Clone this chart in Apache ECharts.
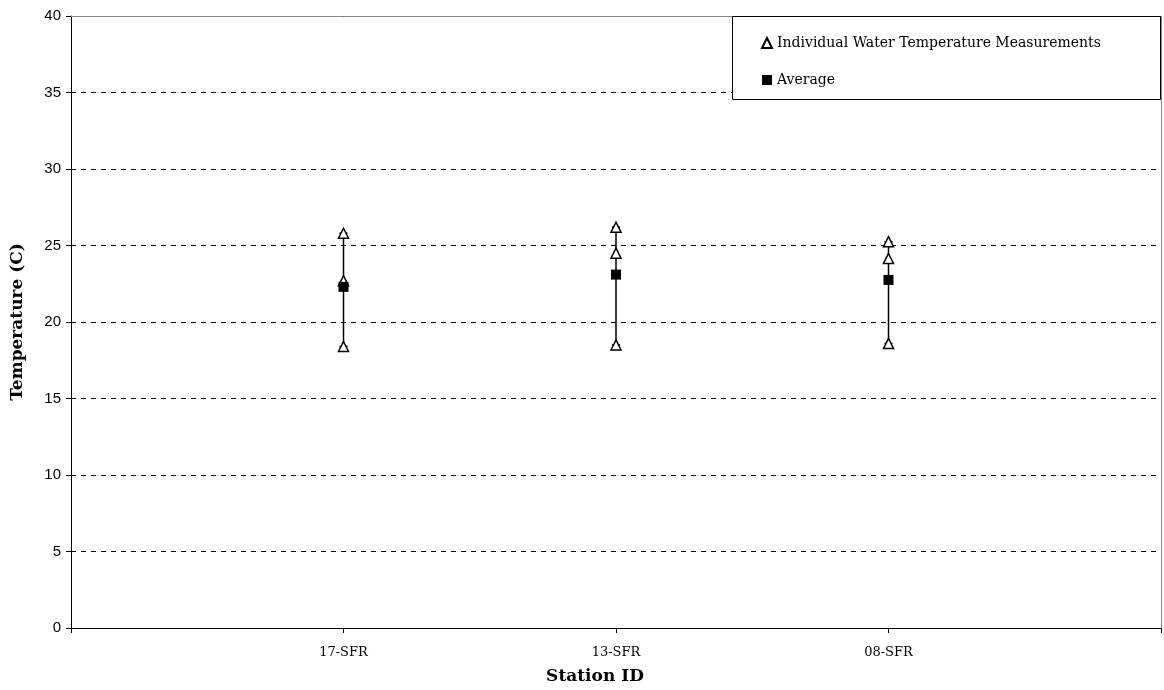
<!DOCTYPE html>
<html>
<head>
<meta charset="utf-8">
<script src="https://cdn.jsdelivr.net/npm/echarts@6/dist/echarts.min.js"></script>
<style>
  html, body { margin: 0; padding: 0; background: #fff; }
  #main { width: 1164px; height: 690px; }
</style>
</head>
<body>
<div id="main"></div>
<script>
// stations along the x axis
var stations = ['17-SFR', '13-SFR', '08-SFR'];
// individual water temperature readings (C), one array per reading
var reading1 = [25.8, 26.2, 25.25];
var reading2 = [22.7, 24.5, 24.15];
var reading3 = [18.4, 18.5, 18.6];
// station averages
var averages = [22.3, 23.1, 22.75];
var yTicks = [0, 5, 10, 15, 20, 25, 30, 35, 40];

var serif = '"DejaVu Serif", "Liberation Serif", serif';

var pointData = [];
var rangeData = [];
stations.forEach(function (s, i) {
    var vals = [reading1[i], reading2[i], reading3[i]];
    vals.forEach(function (v) { pointData.push([i + 1, v]); });
    rangeData.push([i + 1, Math.min.apply(null, vals), Math.max.apply(null, vals)]);
});
var avgData = averages.map(function (v, i) { return [i + 1, v]; });

var myChart = echarts.init(document.getElementById('main'));

var option = {
    animation: false,
    backgroundColor: '#fff',
    grid: { left: 71, right: 3, top: 16, bottom: 62, outerBoundsMode: 'none', containLabel: false },
    graphic: [{
        type: 'rect',
        z: 10,
        shape: { x: 732.5, y: 16.5, width: 428, height: 83 },
        style: { fill: '#fff', stroke: '#000', lineWidth: 1 }
    }],
    legend: {
        z: 20,
        left: 756,
        top: 31,
        orient: 'vertical',
        itemGap: 23,
        itemWidth: 10,
        itemHeight: 10,
        textStyle: { fontFamily: serif, fontSize: 14, color: '#000' },
        data: ['Individual Water Temperature Measurements', 'Average']
    },
    xAxis: [{
        type: 'value',
        min: 0,
        max: stations.length + 1,
        interval: 1,
        name: 'Station ID',
        nameLocation: 'middle',
        nameGap: 40,
        nameTextStyle: { fontFamily: serif, fontSize: 17, fontWeight: 'bold', color: '#000', padding: [0, 42, 0, 0] },
        axisLine: { onZero: false, lineStyle: { color: '#000', width: 1 } },
        axisTick: { show: true, length: 5, lineStyle: { color: '#000' } },
        axisLabel: {
            margin: 18,
            fontFamily: serif,
            fontSize: 13,
            color: '#000',
            formatter: function (v) { return stations[v - 1] || ''; }
        },
        splitLine: { show: false }
    }, {
        type: 'value',
        position: 'top',
        min: 0, max: stations.length + 1,
        axisLine: { show: true, onZero: false, lineStyle: { color: '#888', width: 1 } },
        axisTick: { show: false },
        axisLabel: { show: false },
        splitLine: { show: false }
    }],
    yAxis: [{
        type: 'value',
        min: yTicks[0],
        max: yTicks[yTicks.length - 1],
        interval: 5,
        name: 'Temperature (C)',
        nameLocation: 'middle',
        nameGap: 45,
        nameTextStyle: { fontFamily: serif, fontSize: 17, fontWeight: 'bold', color: '#000' },
        axisLine: { show: true, onZero: false, lineStyle: { color: '#000', width: 1 } },
        axisTick: { show: true, length: 5, lineStyle: { color: '#000' } },
        axisLabel: {
            margin: 10,
            fontFamily: '"Liberation Sans", Arial, sans-serif',
            fontSize: 15,
            color: '#000'
        },
        splitLine: { show: true, lineStyle: { color: '#000', width: 1, type: [5, 5] } }
    }, {
        type: 'value',
        position: 'right',
        min: 0, max: 40,
        axisLine: { show: true, onZero: false, lineStyle: { color: '#888', width: 1 } },
        axisTick: { show: false },
        axisLabel: { show: false },
        splitLine: { show: false }
    }],
    series: [
        {
            // high-low range line per station
            type: 'custom',
            silent: true,
            z: 2,
            data: rangeData,
            renderItem: function (params, api) {
                var top = api.coord([api.value(0), api.value(2)]);
                var bot = api.coord([api.value(0), api.value(1)]);
                var cap = 4;
                var st = { stroke: '#000', lineWidth: 1.5 };
                return {
                    type: 'group',
                    children: [
                        { type: 'line', shape: { x1: top[0], y1: top[1], x2: bot[0], y2: bot[1] }, style: st },
                        { type: 'line', shape: { x1: top[0] - cap, y1: top[1], x2: top[0] + cap, y2: top[1] }, style: st },
                        { type: 'line', shape: { x1: bot[0] - cap, y1: bot[1], x2: bot[0] + cap, y2: bot[1] }, style: st }
                    ]
                };
            }
        },
        {
            name: 'Individual Water Temperature Measurements',
            type: 'scatter',
            z: 3,
            symbol: 'triangle',
            symbolSize: 10,
            itemStyle: { color: '#fff', borderColor: '#000', borderWidth: 1.5, opacity: 1 },
            data: pointData
        },
        {
            name: 'Average',
            type: 'scatter',
            z: 4,
            symbol: 'rect',
            symbolSize: 10,
            itemStyle: { color: '#000', borderColor: '#000', borderWidth: 0, opacity: 1 },
            data: avgData
        }
    ]
};

myChart.setOption(option);
</script>
</body>
</html>
